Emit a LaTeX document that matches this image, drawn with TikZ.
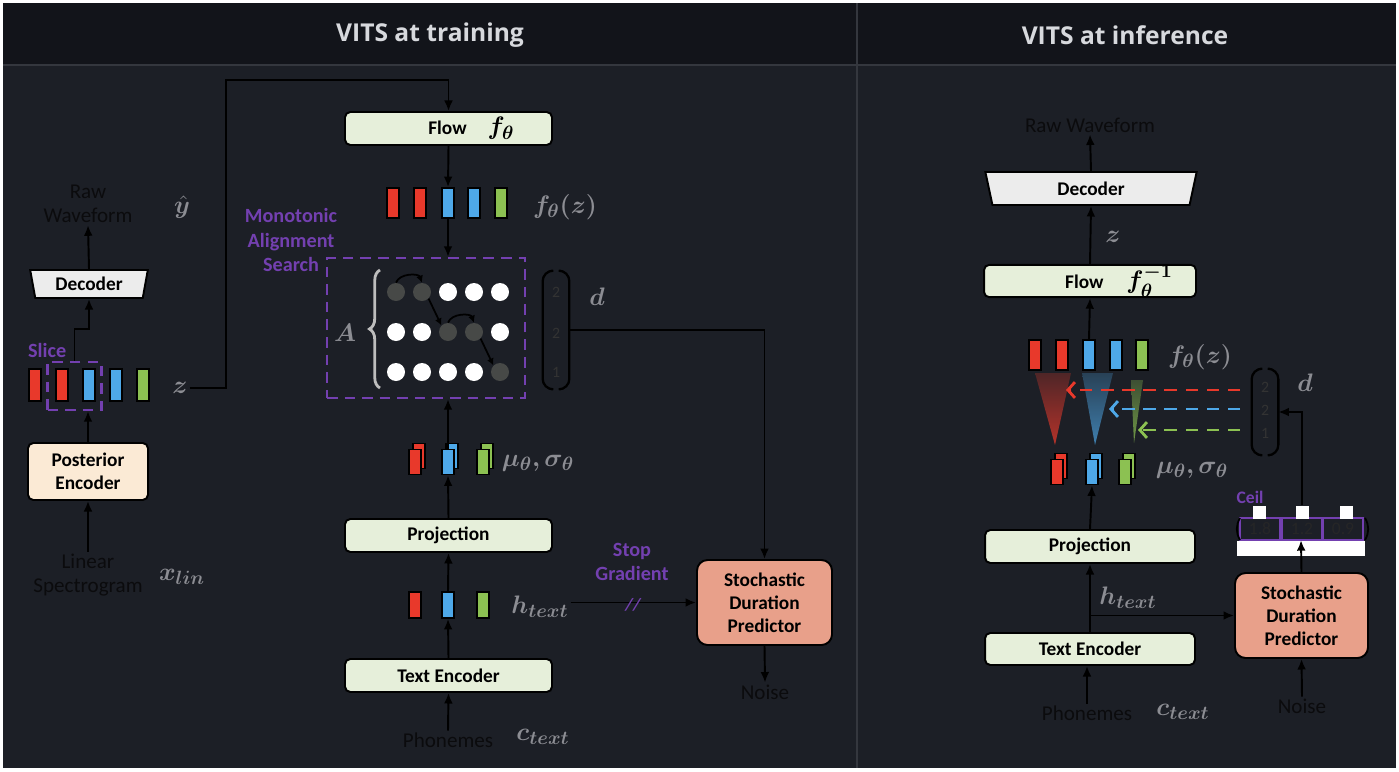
\documentclass[tikz,border=0pt]{standalone}
\usepackage{fontspec}
\usepackage{amsmath}
\usepackage{bm}
\setmainfont{Carlito}
\newfontfamily\titlefont{Open Sans}
\usetikzlibrary{shapes, arrows.meta, calc, positioning, fit}
\usetikzlibrary{decorations.pathreplacing}

\definecolor{bodybg}{HTML}{1C1F26}
\definecolor{titlebg}{HTML}{12141A}
\definecolor{rulegray}{HTML}{34373E}
\definecolor{titletxt}{HTML}{D7D9DD}
\definecolor{mathgray}{HTML}{8C8D93}
\definecolor{masviolet}{HTML}{7340B0}
\definecolor{tokred}{HTML}{E8392B}
\definecolor{tokblue}{HTML}{4EA8E8}
\definecolor{tokgreen}{HTML}{8CC152}
\definecolor{flowfill}{HTML}{E6EFDA}
\definecolor{postfill}{HTML}{FBEAD5}
\definecolor{sdpfill}{HTML}{E8A08A}
\definecolor{decfill}{HTML}{ECECEC}
\definecolor{dimdot}{HTML}{474947}
\definecolor{inktext}{HTML}{0B0B0D}
\definecolor{bracegray}{HTML}{BDBDBD}

\begin{document}
\begin{tikzpicture}[x=0.02cm, y=-0.02cm,
        every node/.style = {font=\fontsize{12}{14}\selectfont},
        block/.style = {draw=black, line width=1.1pt, rounded corners=3pt, fill=flowfill, inner sep=0pt,
            font=\fontsize{11}{13}\selectfont\bfseries, align=center},
        dec/.style = {draw=black, line width=1.1pt, fill=decfill, trapezium, trapezium left angle=77,
            trapezium right angle=77, shape border rotate=180, trapezium stretches=true, inner sep=0pt,
            font=\fontsize{11}{13}\selectfont\bfseries},
        plain/.style = {text=inktext, align=center, inner sep=1pt},
        sym/.style = {text=mathgray, inner sep=1pt, font=\fontsize{15}{17}\selectfont},
        violet/.style = {text=masviolet, align=center, inner sep=1pt, font=\fontsize{11.5}{14}\selectfont\bfseries},
        masbox/.style = {draw=masviolet, line width=1.3pt, dash pattern=on 6pt off 4pt, inner sep=0pt},
        tok/.style = {draw=black, line width=1pt, minimum width=0.24cm, minimum height=0.6cm, inner sep=0pt},
        arr/.style = {line width=1.1pt, -{Latex[length=6pt, width=5pt]}},
        darr/.style = {line width=1.6pt, dash pattern=on 7pt off 5pt, -{Straight Barb[length=4pt, width=9pt]}},
        dot/.style = {circle, minimum size=0.36cm, inner sep=0pt},
        paren/.style = {draw=black, line width=1.3pt, rounded corners=6pt},
        num/.style = {text=black!80, inner sep=0pt, font=\fontsize{9}{10}\selectfont}]

    % frame and panels
    \useasboundingbox (0,0) rectangle (1399,771);
    \fill[white] (0,0) rectangle (1399,771);
    \fill[bodybg] (3,3) rectangle (1396,768);
    \fill[titlebg] (3,3) rectangle (1396,65);
    \draw[rulegray, line width=1pt] (3,65) -- (1396,65);
    \draw[rulegray, line width=1pt] (857,3) -- (857,768);
    \node[text=titletxt, font=\titlefont\fontsize{14}{16}\selectfont\bfseries] (ttrain) at (430,35) {VITS at training};
    \node[text=titletxt, font=\titlefont\fontsize{14}{16}\selectfont\bfseries] (tinfer) at (1125,35) {VITS at inference};

    %%% training: posterior branch
    \node[plain] (rawL) at (88,204) {Raw\\Waveform};
    \node[sym] (yhat) at (182,207) {$\bm{\hat{y}}$};
    \node[dec, minimum width=2.36cm, minimum height=0.56cm] (decL) at (89,284) {Decoder};
    \node[violet, anchor=west] (sliceT) at (26,350) {Slice};
    \foreach \i/\x/\c in {1/35/tokred, 2/62/tokred, 3/89/tokblue, 4/116/tokblue, 5/143/tokgreen}
        \node[tok, fill=\c, minimum height=0.64cm] (zL\i) at (\x,385) {};
    \node[masbox, minimum width=1.08cm, minimum height=0.96cm] (sliceL) at (74.5,386) {};
    \node[sym] (zLab) at (180,388) {$\bm{z}$};
    \node[block, fill=postfill, minimum width=2.4cm, minimum height=1.14cm] (postL) at (88,471.5) {Posterior\\Encoder};
    \node[plain] (linL) at (88,575) {Linear\\Spectrogram};
    \node[sym] (xlin) at (182,577) {$\bm{x_{lin}}$};

    \draw[arr] (decL.north) -- (rawL.south);
    \draw[arr] (sliceL.north) -- ++(0,-32) -| (decL.south);
    \draw[arr] (postL.north) -- (postL.north |- sliceL.south);
    \draw[arr] (linL.north) -- (postL.south);

    %%% training: prior branch
    \node[block, minimum width=4.14cm, minimum height=0.66cm] (flowT) at (448.5,128.5)
        {\hspace*{26pt}Flow\hspace{12pt}{\fontsize{15}{15}\selectfont$\bm{f_\theta}$}};
    \coordinate (turnL) at (226,80);
    \draw[arr] (zLab.east) -| (turnL) -| (flowT.north);

    \foreach \i/\x/\c in {1/393/tokred, 2/420/tokred, 3/448/tokblue, 4/474/tokblue, 5/501/tokgreen}
        \node[tok, fill=\c] (fz\i) at (\x,203) {};
    \node[sym] (fzLab) at (565,207) {$\bm{f_\theta(z)}$};
    \draw[arr] (flowT.south) -- (fz3.north);

    \node[violet] (masLab) at (291,240) {Monotonic\\Alignment\\Search};
    \node[masbox, minimum width=3.96cm, minimum height=2.8cm] (mas) at (426,328) {};
    \draw[arr] (fz3.south) -- (fz3.south |- mas.north);

    \node[sym] (aLab) at (345,333) {$\bm{A}$};
    \draw[bracegray, line width=1.6pt, decorate, decoration={brace, amplitude=6pt}] (380,388) -- (380,270);
    \foreach \r/\c/\f in {1/1/dimdot, 1/2/dimdot, 1/3/white, 1/4/white, 1/5/white,
                          2/1/white, 2/2/white, 2/3/dimdot, 2/4/dimdot, 2/5/white,
                          3/1/white, 3/2/white, 3/3/white, 3/4/white, 3/5/dimdot}
        \node[dot, fill=\f] (d\r\c) at ({370+26*\c},{252+40*\r}) {};
    \draw[line width=1pt, -{Latex[length=4pt, width=4pt]}] (d11.north) to[bend left=70] (d12.north);
    \draw[line width=1pt, -{Latex[length=4pt, width=4pt]}] (d12.south east) -- (d23.north west);
    \draw[line width=1pt, -{Latex[length=4pt, width=4pt]}] (d23.north) to[bend left=70] (d24.north);
    \draw[line width=1pt, -{Latex[length=4pt, width=4pt]}] (d24.south east) -- (d35.north west);

    \node[minimum width=0.52cm, minimum height=2.36cm, inner sep=0pt] (durT) at (556,330) {};
    \draw[paren] ([xshift=5pt]durT.north west) -- (durT.north west) -- (durT.south west) -- ([xshift=5pt]durT.south west);
    \draw[paren] ([xshift=-5pt]durT.north east) -- (durT.north east) -- (durT.south east) -- ([xshift=-5pt]durT.south east);
    \node[num] (dT1) at (556,292) {2};
    \node[num] (dT2) at (556,333) {2};
    \node[num] (dT3) at (556,372) {1};
    \node[sym] (dLab) at (597,297) {$\bm{d}$};

    \foreach \i/\x/\c in {1/415/tokred, 2/448/tokblue, 3/483/tokgreen} {
        \node[tok, fill=\c, minimum height=0.5cm] at (\x+4,456) {};
        \node[tok, fill=\c, minimum height=0.5cm] (mu\i) at (\x,462) {};
    }
    \node[sym] (muLab) at (538,463) {$\bm{\mu_\theta, \sigma_\theta}$};
    \draw[arr] (mu2.north) -- (mu2.north |- mas.south);

    \node[block, minimum width=4.14cm, minimum height=0.66cm] (projT) at (448.5,535.5) {Projection};
    \draw[arr] (projT.north) -- (mu2.south);

    \foreach \i/\x/\c in {1/415/tokred, 2/448/tokblue, 3/483/tokgreen}
        \node[tok, fill=\c, minimum height=0.52cm] (h\i) at (\x,605) {};
    \node[sym] (htLab) at (540,607) {$\bm{h_{text}}$};
    \draw[arr] (h2.north) -- (projT.south);

    \node[block, minimum width=4.14cm, minimum height=0.66cm] (textT) at (448.5,675.5) {Text Encoder};
    \draw[arr] (textT.north) -- (h2.south);
    \node[plain] (phonT) at (448,740) {Phonemes};
    \node[sym] (ctT) at (543,737) {$\bm{c_{text}}$};
    \draw[arr] (phonT.north) -- (textT.south);

    \node[block, fill=sdpfill, rounded corners=6pt, minimum width=2.7cm, minimum height=1.7cm] (sdpT) at (764.5,602.5)
        {Stochastic\\Duration\\Predictor};
    \node[violet] (stopLab) at (632,562) {Stop\\Gradient};
    \draw[arr] (htLab.east |- sdpT.west) -- (sdpT.west);
    \node[violet, font=\fontsize{10}{12}\selectfont\bfseries\itshape] (cut) at (633,605) {//};
    \draw[arr] (durT.east) -| (sdpT.north);
    \node[plain] (noiseT) at (765,692) {Noise};
    \draw[arr] (sdpT.south) -- (noiseT.north);

    %%% inference
    \node[plain] (rawR) at (1090,125) {Raw Waveform};
    \node[dec, trapezium left angle=80, trapezium right angle=80, minimum width=4.24cm, minimum height=0.66cm] (decR) at (1091,188.5) {Decoder};
    \draw[arr] (decR.north) -- (rawR.south);
    \node[sym] (zR) at (1113,237) {$\bm{z}$};
    \node[block, minimum width=4.24cm, minimum height=0.64cm] (flowR) at (1090,281)
        {\hspace*{33pt}Flow\hspace{13pt}{\fontsize{15}{15}\selectfont$\bm{f_\theta^{-1}}$}};
    \draw[arr] (flowR.north) -- (decR.south);

    \foreach \i/\x/\c in {1/1035/tokred, 2/1062/tokred, 3/1089/tokblue, 4/1116/tokblue, 5/1142/tokgreen}
        \node[tok, fill=\c] (gz\i) at (\x,355) {};
    \node[sym] (gzLab) at (1200,357) {$\bm{f_\theta(z)}$};
    \draw[arr] (gz3.north) -- (flowR.south);

    % expansion cones
    \shade[top color=tokred!25!bodybg, bottom color=tokred!75!bodybg] (1035,373) -- (1071,373) -- (1055,445) -- cycle;
    \shade[top color=tokblue!25!bodybg, bottom color=tokblue!70!bodybg] (1082,373) -- (1113,373) -- (1095,445) -- cycle;
    \shade[top color=tokgreen!30!bodybg, bottom color=tokgreen!75!bodybg] (1131,380) -- (1143,380) -- (1134,443) -- cycle;

    \node[minimum width=0.52cm, minimum height=1.72cm, inner sep=0pt] (durR) at (1265,412) {};
    \draw[paren] ([xshift=5pt]durR.north west) -- (durR.north west) -- (durR.south west) -- ([xshift=5pt]durR.south west);
    \draw[paren] ([xshift=-5pt]durR.north east) -- (durR.north east) -- (durR.south east) -- ([xshift=-5pt]durR.south east);
    \node[num] (dR1) at (1265,387) {2};
    \node[num] (dR2) at (1265,410) {2};
    \node[num] (dR3) at (1265,433) {1};
    \node[sym] (dRLab) at (1305,383) {$\bm{d}$};

    \coordinate (redS) at (1240,390);   \coordinate (redE) at (1066,390);
    \coordinate (blueS) at (1240,409);  \coordinate (blueE) at (1109,409);
    \coordinate (greenS) at (1240,430); \coordinate (greenE) at (1138,430);
    \draw[darr, tokred] (redS) -- (redE);
    \draw[darr, tokblue] (blueS) -- (blueE);
    \draw[darr, tokgreen] (greenS) -- (greenE);

    \foreach \i/\x/\c in {1/1057/tokred, 2/1092/tokblue, 3/1125/tokgreen} {
        \node[tok, fill=\c, minimum height=0.5cm] at (\x+4,466) {};
        \node[tok, fill=\c, minimum height=0.5cm] (muR\i) at (\x,472) {};
    }
    \node[sym] (muRLab) at (1192,470) {$\bm{\mu_\theta, \sigma_\theta}$};

    \node[block, minimum width=4.2cm, minimum height=0.66cm] (projR) at (1090,546.5) {Projection};
    \draw[arr] (projR.north) -- (muR2.south);
    \node[block, minimum width=4.2cm, minimum height=0.64cm] (textR) at (1090,649) {Text Encoder};
    \draw[arr] (textR.north) -- (projR.south);
    \node[sym] (hR) at (1128,598) {$\bm{h_{text}}$};

    \node[block, fill=sdpfill, rounded corners=6pt, minimum width=2.66cm, minimum height=1.7cm] (sdpR) at (1301.5,615.5)
        {Stochastic\\Duration\\Predictor};
    \draw[arr] (textR.north |- sdpR.west) -- (sdpR.west);

    % ceil of durations
    \node[fill=white, minimum width=2.56cm, minimum height=0.3cm, inner sep=0pt] (cellbase) at (1301,548) {};
    \foreach \i/\x/\v in {1/1260/1.8, 2/1302/1.2, 3/1343/0.9} {
        \node[draw=masviolet, line width=1pt, minimum width=0.8cm, minimum height=0.44cm, inner sep=0pt,
            text=black!85, font=\fontsize{10}{12}\selectfont] (cell\i) at (\x,529) {\v};
    }
    \foreach \i/\x in {1/1259, 2/1302, 3/1346}
        \node[fill=white, minimum size=0.26cm, inner sep=0pt] (sq\i) at (\x,512) {};
    \node[violet, font=\fontsize{10}{12}\selectfont\bfseries] (ceilLab) at (1250,497) {Ceil};
    \draw[black, line width=1pt] (1240,518) to[bend right=30] (1240,540);
    \draw[black, line width=1pt] (1365,518) to[bend left=30] (1365,540);
    \draw[arr] (sdpR.north) -- (cellbase.north);
    \draw[arr] (sq2.north) |- (durR.east);

    \node[plain] (phonR) at (1087,713) {Phonemes};
    \node[sym] (ctR) at (1183,712) {$\bm{c_{text}}$};
    \draw[arr] (phonR.north) -- (phonR.north |- textR.south);
    \node[plain] (noiseR) at (1302,706) {Noise};
    \draw[arr] (noiseR.north) -- (sdpR.south);
\end{tikzpicture}
\end{document}
